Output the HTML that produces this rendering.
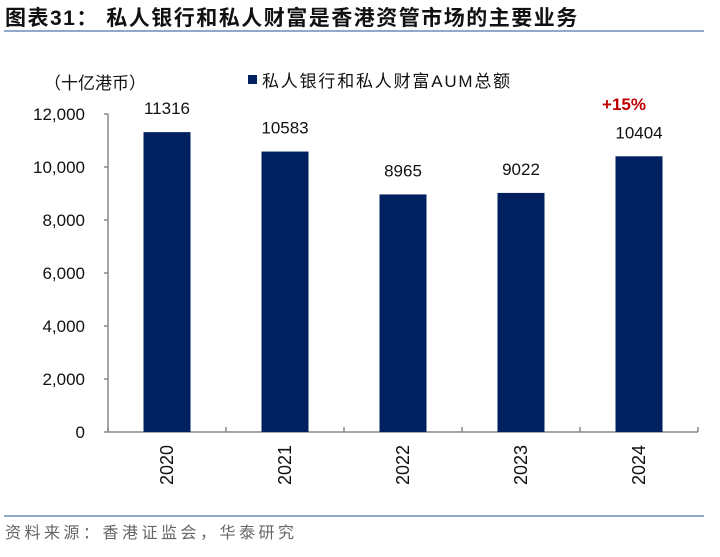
<!DOCTYPE html>
<html><head><meta charset="utf-8"><style>
body{margin:0;background:#fff;}
svg text{font-family:"Liberation Sans","Noto Sans CJK SC",sans-serif;}
</style></head><body>
<svg width="720" height="552">
<text x="5" y="25" font-size="21" font-weight="bold" letter-spacing="1.5" fill="#111">图表31：  私人银行和私人财富是香港资管市场的主要业务</text>
<rect x="4" y="30" width="700" height="2" fill="#8faac8"/>
<text x="44" y="89" font-size="17" fill="#111">（十亿港币）</text>
<rect x="248" y="75" width="9" height="9" fill="#002060"/>
<text x="262" y="87" font-size="17" letter-spacing="1.8" fill="#111">私人银行和私人财富AUM总额</text>
<g id="axes"></g>
<g id="bars"></g>
<text x="624" y="110" font-size="17" font-weight="bold" fill="#c00000" text-anchor="middle">+15%</text>
<rect x="4" y="515" width="700" height="2" fill="#8faac8"/>
<text x="5" y="538" font-size="16" letter-spacing="3.5" fill="#666">资料来源：香港证监会，华泰研究</text>
</svg>
<script>
const categories=["2020","2021","2022","2023","2024"];
const values=[11316,10583,8965,9022,10404];
const ticks=[0,2000,4000,6000,8000,10000,12000];
const tickLabels=["0","2,000","4,000","6,000","8,000","10,000","12,000"];
const NS="http://www.w3.org/2000/svg";
const x0=108,x1=698,y0=432,ymax=12000,ytop=114;
const y=v=>y0-(y0-ytop)*v/ymax;
const bw=(x1-x0)/categories.length;
const xc=i=>x0+bw*(i+0.5);
function mk(t,a,p){const e=document.createElementNS(NS,t);for(const k in a)e.setAttribute(k,a[k]);p.appendChild(e);return e;}
const ax=document.getElementById('axes'),bg=document.getElementById('bars');
const yl=mk('line',{x1:x0,y1:y(ymax),x2:x0,y2:y0,stroke:'#888','stroke-width':1.5},ax);


const xl=mk('line',{x1:x0,y1:y0,x2:x1,y2:y0,stroke:'#888','stroke-width':1.5},ax);


ticks.forEach((t,i)=>{
 const tk=mk('line',{x1:x0-4,y1:y(t),x2:x0,y2:y(t),stroke:'#888','stroke-width':1.5},ax);
 
 
 const tl=mk('text',{x:85,y:y(t)+6,'font-size':17,'text-anchor':'end',fill:'#111'},ax);
 tl.textContent=tickLabels[i];
 
 
});
for(let i=0;i<=categories.length;i++){
 const tk=mk('line',{x1:x0+bw*i,y1:y0,x2:x0+bw*i,y2:y0-5,stroke:'#888','stroke-width':1.5},ax);
 
 
}
categories.forEach((c,i)=>{
 const b=mk('rect',{x:xc(i)-23.5,y:y(values[i]),width:47,height:y0-y(values[i]),fill:'#002060'},bg);
 
 
 const v=mk('text',{x:xc(i),y:y(values[i])-18,'font-size':17,'text-anchor':'middle',fill:'#111'},bg);
 v.textContent=values[i];
 
 
 const l=mk('text',{transform:`translate(${xc(i)+6},445) rotate(-90)`,'font-size':18,'text-anchor':'end',fill:'#111'},bg);
 l.textContent=c;
 
 
});
</script>
</body></html>
